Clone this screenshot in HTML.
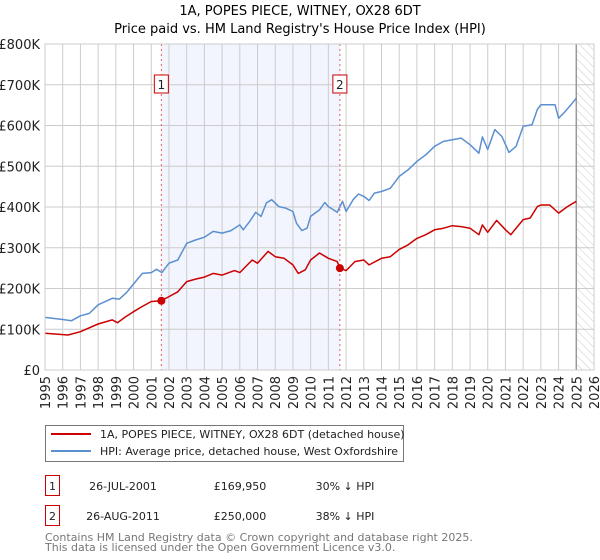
<!DOCTYPE html>
<html><head><meta charset="utf-8"><style>
body{margin:0;background:#fff;font-family:"Liberation Sans","DejaVu Sans",sans-serif;}
#wrap{position:relative;width:600px;height:560px;overflow:hidden}
svg text{font-family:"DejaVu Sans","Liberation Sans",sans-serif}
</style></head><body><div id="wrap">
<svg id="chart" width="600" height="560"></svg>
</div>
<script>
const hpiYears=[1995,1996,1996.5,1997,1997.5,1998,1998.8,1999.2,1999.6,2000,2000.5,2001,2001.3,2001.6,2002,2002.5,2003,2003.5,2004,2004.5,2005,2005.5,2006,2006.2,2006.6,2006.9,2007.2,2007.5,2007.8,2008.2,2008.6,2009,2009.2,2009.5,2009.8,2010,2010.5,2010.8,2011,2011.5,2011.8,2012,2012.4,2012.7,2013,2013.3,2013.6,2014,2014.5,2015,2015.5,2016,2016.5,2017,2017.5,2018,2018.5,2019,2019.5,2019.7,2020,2020.4,2020.8,2021.2,2021.6,2022,2022.5,2022.8,2023,2023.4,2023.8,2024,2024.3,2024.7,2025];
const hpiValues=[129,124,121,133,139,160,176,174,190,211,237,239,247,239,262,270,311,319,326,340,336,342,356,344,367,387,377,410,418,401,397,389,360,342,348,377,393,411,401,387,414,389,418,432,426,416,434,438,446,475,491,512,528,549,561,565,569,553,532,572,541,590,573,534,549,598,602,639,651,651,651,618,631,651,667];
const paidYears=[1995,1996.3,1997,1998,1998.8,1999.1,1999.5,2000,2000.5,2001,2001.57,2002,2002.5,2003,2003.5,2004,2004.5,2005,2005.7,2006,2006.7,2007,2007.6,2008,2008.5,2009,2009.3,2009.7,2010,2010.5,2011,2011.5,2011.65,2012,2012.5,2013,2013.3,2014,2014.5,2015,2015.5,2016,2016.5,2017,2017.5,2018,2018.5,2019,2019.5,2019.7,2020,2020.5,2021,2021.3,2022,2022.4,2022.8,2023,2023.5,2024,2024.5,2025];
const paidValues=[90,86,94,113,123,116,129,143,156,168,170,180,192,217,223,228,237,233,244,239,270,262,291,278,274,258,237,246,270,287,274,266,250,244,266,270,258,274,278,296,307,323,332,344,348,354,352,348,332,356,338,367,344,332,369,373,401,405,405,385,401,414];
const saleYears=[2001.57,2011.65];
const saleValues=[169.95,250];
const saleLabels=["1","2"];
const yTicks=[0,100,200,300,400,500,600,700,800];
const yTickLabels=["£0","£100K","£200K","£300K","£400K","£500K","£600K","£700K","£800K"];
const xTicks=[1995,1996,1997,1998,1999,2000,2001,2002,2003,2004,2005,2006,2007,2008,2009,2010,2011,2012,2013,2014,2015,2016,2017,2018,2019,2020,2021,2022,2023,2024,2025,2026];

const L=45,R=594,T=44,B=370;
const x=y=>L+(y-1995)*(R-L)/31;
const yv=v=>B-v*(B-T)/800;
const NS="http://www.w3.org/2000/svg";
const svg=document.getElementById('chart');
function mk(tag,attrs,parent){const e=document.createElementNS(NS,tag);for(const k in attrs)e.setAttribute(k,attrs[k]);(parent||svg).appendChild(e);return e;}
function txt(s,attrs){const e=mk('text',attrs);e.textContent=s;return e;}

// defs hatch
const defs=mk('defs',{});
const pat=mk('pattern',{id:'hatch',width:6,height:6,patternUnits:'userSpaceOnUse',patternTransform:'rotate(-45)'},defs);
mk('line',{x1:0,y1:0,x2:0,y2:6,stroke:'#ccc','stroke-width':1},pat);

let e;
e=txt("1A, POPES  PIECE, WITNEY, OX28 6DT",{x:300,y:15,'text-anchor':'middle','font-size':13});

e=txt("Price paid vs. HM Land Registry's House Price Index (HPI)",{x:300,y:33,'text-anchor':'middle','font-size':13});


e=mk('rect',{x:x(saleYears[0]),y:T,width:x(saleYears[1])-x(saleYears[0]),height:B-T,fill:'#eef2fc',opacity:0.75});

e=mk('rect',{x:x(2025),y:T,width:R-x(2025),height:B-T,fill:'url(#hatch)'});


yTicks.forEach((t,i)=>{
  e=mk('line',{x1:L,x2:R,y1:yv(t),y2:yv(t),stroke:'#ccc','stroke-width':1});
  
  e=txt(yTickLabels[i],{x:L-5,y:yv(t)+5,'text-anchor':'end','font-size':13,fill:'#222'});
  
});
xTicks.forEach(t=>{
  e=mk('line',{x1:x(t),x2:x(t),y1:T,y2:B,stroke:'#ccc','stroke-width':1});
  
  e=txt(String(t),{x:0,y:0,'text-anchor':'end','font-size':13,fill:'#222',transform:`translate(${x(t)+5},${B+6}) rotate(-90)`});
  
});
e=mk('line',{x1:x(2025),x2:x(2025),y1:T,y2:B,stroke:'#999','stroke-width':1.5});


saleYears.forEach((s,i)=>{
  e=mk('line',{x1:x(s),x2:x(s),y1:T,y2:B,stroke:'#e06060','stroke-width':1,'stroke-dasharray':'2,3'});
  
  e=mk('rect',{x:x(s)-7,y:75,width:14,height:18,fill:'#fff',stroke:'#c00','stroke-width':1});
  
  e=txt(saleLabels[i],{x:x(s),y:89,'text-anchor':'middle','font-size':12,fill:'#222'});
  
});

const pts=(xs,vs)=>xs.map((a,i)=>x(a).toFixed(1)+','+yv(vs[i]).toFixed(1)).join(' ');
e=mk('polyline',{points:pts(hpiYears,hpiValues),fill:'none',stroke:'#5b8fd0','stroke-width':1.5,'stroke-linejoin':'round'});

e=mk('polyline',{points:pts(paidYears,paidValues),fill:'none',stroke:'#cc0000','stroke-width':1.5,'stroke-linejoin':'round'});

saleYears.forEach((s,i)=>{
  e=mk('circle',{cx:x(s),cy:yv(saleValues[i]),r:4,fill:'#cc0000'});
  
});
e=mk('rect',{x:L,y:T,width:R-L,height:B-T,fill:'none',stroke:'#ccc','stroke-width':1});


// legend
e=mk('rect',{x:45.5,y:425.5,width:358,height:36,fill:'#fff',stroke:'#777','stroke-width':1});

e=mk('line',{x1:51,x2:91,y1:434,y2:434,stroke:'#cc0000','stroke-width':2});

e=txt("1A, POPES  PIECE, WITNEY, OX28 6DT (detached house)",{x:100,y:438,'font-size':11,fill:'#222'});

e=mk('line',{x1:51,x2:91,y1:451,y2:451,stroke:'#5b8fd0','stroke-width':2});

e=txt("HPI: Average price, detached house, West Oxfordshire",{x:100,y:455,'font-size':11,fill:'#222'});


// table
const rows=[["1","26-JUL-2001","£169,950","30% ↓ HPI",475],["2","26-AUG-2011","£250,000","38% ↓ HPI",505]];
rows.forEach(r=>{
  e=mk('rect',{x:45.5,y:r[4]+0.5,width:14,height:20,fill:'#fff',stroke:'#c00','stroke-width':1});
  
  e=txt(r[0],{x:52.5,y:r[4]+15,'text-anchor':'middle','font-size':11,fill:'#222'});
  
  e=txt(r[1],{x:123,y:r[4]+15,'text-anchor':'middle','font-size':11,fill:'#222'});
  
  e=txt(r[2],{x:240,y:r[4]+15,'text-anchor':'middle','font-size':11,fill:'#222'});
  
  e=txt(r[3],{x:345,y:r[4]+15,'text-anchor':'middle','font-size':11,fill:'#222'});
  
});
e=txt("Contains HM Land Registry data © Crown copyright and database right 2025.",{x:45,y:541,'font-size':11,fill:'#777'});

e=txt("This data is licensed under the Open Government Licence v3.0.",{x:45,y:551,'font-size':11,fill:'#777'});

</script></body></html>
